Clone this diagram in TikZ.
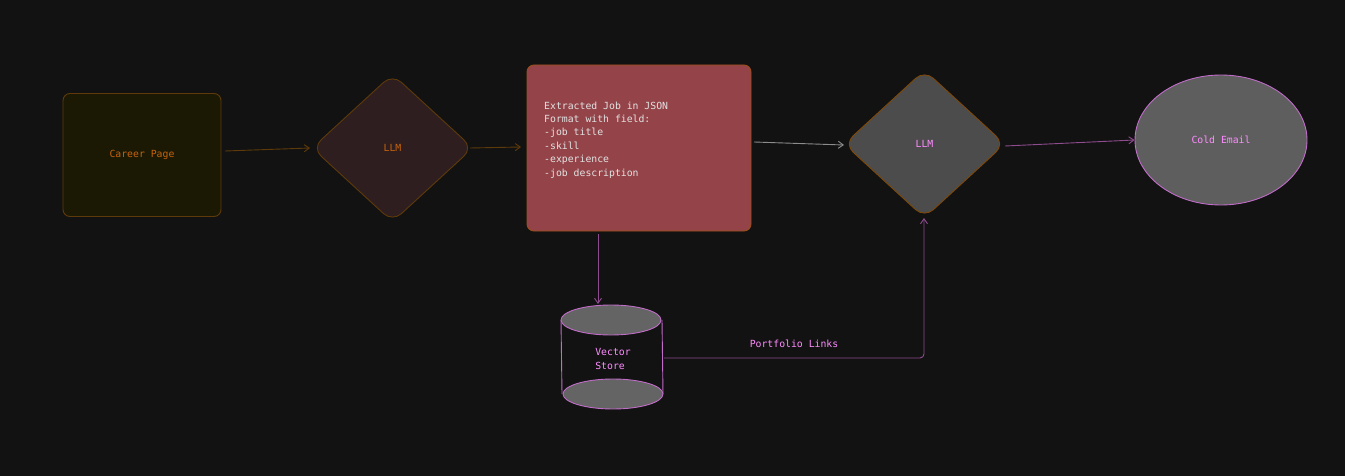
\documentclass[tikz,border=0pt]{standalone}
\usepackage{fontspec}
\setmonofont{DejaVu Sans Mono}
\usetikzlibrary{shapes.geometric,arrows.meta}
\definecolor{bgc}{HTML}{121212}
\definecolor{careerfill}{HTML}{1B1904}
\definecolor{brownline}{HTML}{5E3A0A}
\definecolor{orangetxt}{HTML}{C8640A}
\definecolor{llmfill}{HTML}{2E1E1F}
\definecolor{redfill}{HTML}{944449}
\definecolor{redline}{HTML}{9A4E18}
\definecolor{grayfill}{HTML}{4C4C4C}
\definecolor{ellfill}{HTML}{5E5E5E}
\definecolor{cylfill}{HTML}{646464}
\definecolor{pinkline}{HTML}{C06CC8}
\definecolor{pinktxt}{HTML}{FF8CFF}
\definecolor{purplearrow}{HTML}{8E4C8E}
\definecolor{grayarrow}{HTML}{8C8C8C}
\definecolor{whitetxt}{HTML}{E2E2E2}
\tikzset{
  lbl/.style={font=\ttfamily\fontsize{9.8}{13.4}\selectfont, inner sep=0pt},
  conn/.style={line width=0.9pt, -{Straight Barb[length=5pt,width=7pt]}},
  diam/.style={diamond, draw, line width=0.9pt, rounded corners=12pt, minimum width=161pt, minimum height=148pt, inner sep=0pt}
}
\begin{document}
\begin{tikzpicture}[x=1pt,y=-1pt]
\fill[bgc] (0,0) rectangle (1345,476);
\useasboundingbox (0,0) rectangle (1345,476);

% Career page
\node[draw=brownline, fill=careerfill, line width=0.9pt, rounded corners=7pt, minimum width=158pt, minimum height=123pt, lbl, text=orangetxt] (career) at (142,155) {Career Page};

% LLM 1
\node[diam, draw=brownline, fill=llmfill, lbl, text=orangetxt] (llm1) at (392.5,148) {LLM};

% Extracted job box
\node[draw=redline, fill=redfill, line width=0.9pt, rounded corners=7pt, minimum width=224pt, minimum height=166pt] (job) at (639,148) {};
\node[lbl, text=whitetxt, align=left, anchor=north west] (jobtxt) at (544,101.5) {Extracted Job in JSON\\Format with field:\\-job title\\-skill\\-experience\\-job description};

% LLM 2
\node[diam, draw=brownline!80!orange, fill=grayfill, lbl, text=pinktxt] (llm2) at (924.5,144) {LLM};

% Cold email
\node[ellipse, draw=pinkline, fill=ellfill, line width=0.9pt, minimum width=172pt, minimum height=130pt, lbl, text=pinktxt] (cold) at (1221,140) {Cold Email};

% Vector store (cylinder)
\node[minimum width=102pt, minimum height=104pt, inner sep=0pt] (vs) at (612,357) {};
\fill[bgc] (561,320) rectangle (663,394);
\draw[pinkline, line width=0.9pt] (561,320) -- (562,394);
\draw[pinkline, line width=0.9pt] (662,320) -- (663,394);
\draw[pinkline, fill=cylfill, line width=0.9pt] (613,394) ellipse [x radius=50, y radius=15];
\draw[pinkline, fill=cylfill, line width=0.9pt] (611,320) ellipse [x radius=50, y radius=15];
\node[lbl, text=pinktxt, align=left] (vstxt) at (613,359) {Vector\\Store};

% connectors
\coordinate (c1s) at (225,151);
\coordinate (c2s) at (470,148);
\coordinate (c2e) at (521,147);
\coordinate (c3s) at (754,142);
\coordinate (c3e) at (844,145);
\coordinate (c4s) at (1005,146);
\coordinate (vsin) at (598,304);
\coordinate (jobout) at (598,234);
\coordinate (vsout) at (664,358);
\coordinate (llm2in) at (924,218);

\draw[conn, brownline] (c1s) -- (llm1.west -| 310,0) ;
\draw[conn, brownline] (c2s) -- (c2e);
\draw[conn, grayarrow] (c3s) -- (c3e);
\draw[conn, purplearrow] (c4s) -- (cold.west);
\draw[conn, purplearrow] (jobout) -- (vsin);
\draw[conn, purplearrow, rounded corners=4pt] (vsout) -- (llm2in |- vsout) -- (llm2in);
\node[lbl, text=pinktxt] (plinks) at (794,343.5) {Portfolio Links};
\end{tikzpicture}
\end{document}
